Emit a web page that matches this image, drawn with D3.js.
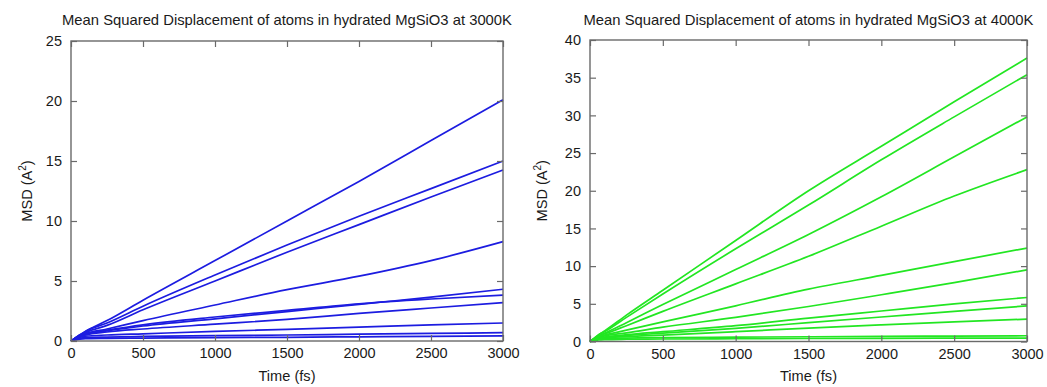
<!DOCTYPE html>
<html>
<head>
<meta charset="utf-8">
<script src="https://cdn.jsdelivr.net/npm/d3@7"></script>
<style>
  html, body { margin: 0; padding: 0; background: #fff; }
  svg { display: block; font-family: "Liberation Sans", Arial, sans-serif; }
</style>
</head>
<body>
<svg id="chart" width="1047" height="387"></svg>
<script>
// Time grid (fs) shared by every MSD curve
const time = [0, 30, 60, 100, 250, 500, 1000, 1500, 2000, 2500, 3000];

// 3000 K: MSD (Å²) per atom group
const msd3000 = [
  [0, 0.25, 0.5, 0.8, 1.7, 3.4, 6.7, 10.0, 13.3, 16.7, 20.1],
  [0, 0.25, 0.5, 0.8, 1.5, 2.9, 5.5, 8.0, 10.4, 12.7, 15.0],
  [0, 0.25, 0.45, 0.7, 1.3, 2.6, 5.0, 7.4, 9.7, 12.0, 14.25],
  [0, 0.2, 0.4, 0.6, 1.0, 1.7, 3.0, 4.28, 5.4, 6.7, 8.28],
  [0, 0.2, 0.4, 0.55, 0.85, 1.25, 1.85, 2.45, 3.05, 3.65, 4.31],
  [0, 0.2, 0.4, 0.6, 0.9, 1.35, 2.0, 2.55, 3.1, 3.5, 3.83],
  [0, 0.2, 0.35, 0.5, 0.75, 1.0, 1.4, 1.8, 2.3, 2.75, 3.19],
  [0, 0.15, 0.3, 0.4, 0.5, 0.6, 0.8, 0.97, 1.15, 1.35, 1.5],
  [0, 0.12, 0.22, 0.28, 0.33, 0.38, 0.45, 0.5, 0.57, 0.63, 0.69],
  [0, 0.08, 0.15, 0.2, 0.22, 0.24, 0.28, 0.31, 0.35, 0.39, 0.42]
];

// 4000 K: MSD (Å²) per atom group
const msd4000 = [
  [0, 0.45, 0.9, 1.4, 3.5, 6.8, 13.4, 20.0, 25.9, 31.8, 37.6],
  [0, 0.45, 0.9, 1.3, 3.2, 6.3, 12.3, 18.1, 24.1, 29.8, 35.4],
  [0, 0.4, 0.8, 1.1, 2.5, 4.9, 9.55, 14.2, 19.2, 24.5, 29.8],
  [0, 0.4, 0.75, 1.0, 2.1, 4.0, 7.65, 11.3, 15.3, 19.3, 22.8],
  [0, 0.35, 0.65, 0.85, 1.5, 2.6, 4.73, 6.95, 8.77, 10.6, 12.4],
  [0, 0.3, 0.6, 0.75, 1.15, 1.9, 3.2, 4.64, 6.2, 7.8, 9.5],
  [0, 0.3, 0.5, 0.6, 0.9, 1.3, 2.1, 3.1, 4.05, 5.0, 5.84],
  [0, 0.25, 0.45, 0.55, 0.8, 1.1, 1.75, 2.5, 3.25, 4.0, 4.73],
  [0, 0.25, 0.4, 0.5, 0.65, 0.85, 1.3, 1.78, 2.2, 2.6, 2.97],
  [0, 0.15, 0.3, 0.38, 0.45, 0.52, 0.58, 0.63, 0.68, 0.72, 0.76],
  [0, 0.1, 0.2, 0.25, 0.3, 0.33, 0.37, 0.4, 0.42, 0.44, 0.45]
];

const xTicks = [0, 500, 1000, 1500, 2000, 2500, 3000];
const yTicks3000 = [0, 5, 10, 15, 20, 25];
const yTicks4000 = [0, 5, 10, 15, 20, 25, 30, 35, 40];

const titles = [
  "Mean Squared Displacement of atoms in hydrated MgSiO3 at 3000K",
  "Mean Squared Displacement of atoms in hydrated MgSiO3 at 4000K"
];

const svg = d3.select("#chart");

function panel(opts) {
  const { left, right, top, bottom, yMax, yTicks, series, color, title, yLabelX } = opts;
  const g = svg.append("g");
  const x = d3.scaleLinear().domain([0, 3000]).range([left, right]);
  const y = d3.scaleLinear().domain([0, yMax]).range([bottom, top]);
  const tickLen = 6;
  const frameColor = "#6a6a6a";
  const ink = "#1a1a1a";

  // curves
  const line = d3.line()
    .x((d, i) => x(time[i]))
    .y(d => y(d))
    .curve(d3.curveMonotoneX);
  g.append("g").selectAll("path")
    .data(series)
    .join("path")
    .attr("d", line)
    .attr("fill", "none")
    .attr("stroke", color)
    .attr("stroke-width", 1.7)
    .attr("stroke-linejoin", "round");

  // mirrored inward ticks on all four sides
  const axB = d3.axisBottom(x).tickValues(xTicks).tickSize(-tickLen).tickPadding(7).tickFormat(d3.format("d"));
  const axT = d3.axisTop(x).tickValues(xTicks).tickSize(-tickLen).tickFormat("");
  const axL = d3.axisLeft(y).tickValues(yTicks).tickSize(-tickLen).tickPadding(9).tickFormat(d3.format("d"));
  const axR = d3.axisRight(y).tickValues(yTicks).tickSize(-tickLen).tickFormat("");

  const style = sel => {
    sel.select(".domain").remove();
    sel.selectAll(".tick line").attr("stroke", frameColor).attr("stroke-width", 1.2);
    sel.selectAll(".tick text").attr("fill", ink).attr("font-size", 14.5).attr("font-family", "Liberation Sans, Arial, sans-serif");
  };
  g.append("g").attr("transform", `translate(0,${bottom})`).call(axB).call(style);
  g.append("g").attr("transform", `translate(0,${top})`).call(axT).call(style);
  g.append("g").attr("transform", `translate(${left},0)`).call(axL).call(style);
  g.append("g").attr("transform", `translate(${right},0)`).call(axR).call(style);

  // frame
  g.append("rect")
    .attr("x", left).attr("y", top)
    .attr("width", right - left).attr("height", bottom - top)
    .attr("fill", "none").attr("stroke", frameColor).attr("stroke-width", 1.4);

  // title
  g.append("text")
    .attr("x", (left + right) / 2).attr("y", 25)
    .attr("text-anchor", "middle").attr("font-size", 14.8).attr("fill", ink)
    .text(title);

  // x label
  g.append("text")
    .attr("x", (left + right) / 2).attr("y", 381)
    .attr("text-anchor", "middle").attr("font-size", 14.6).attr("fill", ink)
    .text("Time (fs)");

  // y label
  const yl = g.append("text")
    .attr("transform", `translate(${yLabelX},${(top + bottom) / 2}) rotate(-90)`)
    .attr("text-anchor", "middle").attr("font-size", 14.6).attr("fill", ink);
  yl.append("tspan").text("MSD (A");
  yl.append("tspan").attr("font-size", 10).attr("dy", -6).text("2");
  yl.append("tspan").attr("dy", 6).text(")");
}

panel({ left: 71, right: 503, top: 41, bottom: 341, yMax: 25, yTicks: yTicks3000,
        series: msd3000, color: "#1c1ce0", title: titles[0], yLabelX: 32 });
panel({ left: 590, right: 1027, top: 40, bottom: 341.5, yMax: 40, yTicks: yTicks4000,
        series: msd4000, color: "#22e622", title: titles[1], yLabelX: 547 });
</script>
</body>
</html>
